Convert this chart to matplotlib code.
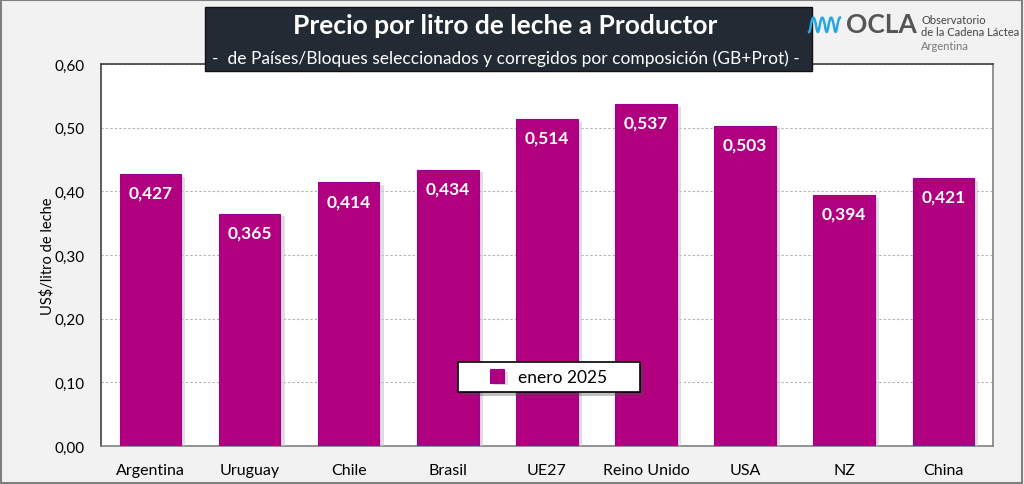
import numpy as np
import matplotlib.pyplot as plt
from matplotlib.patches import Rectangle
from matplotlib.lines import Line2D
import matplotlib.patheffects as pe

plt.rcParams['font.family'] = ['Lato', 'DejaVu Sans']

paises = ['Argentina', 'Uruguay', 'Chile', 'Brasil', 'UE27', 'Reino Unido', 'USA', 'NZ', 'China']
precios = [0.427, 0.365, 0.414, 0.434, 0.514, 0.537, 0.503, 0.394, 0.421]
serie = 'enero 2025'
yticks = [0.0, 0.1, 0.2, 0.3, 0.4, 0.5, 0.6]

fig = plt.figure(figsize=(10.24, 4.85), dpi=100, facecolor='#f2f2f2')
fig.patches.append(Rectangle((0.001, 0.002), 0.997, 0.995, transform=fig.transFigure,
                             fill=False, edgecolor='#7f7f7f', linewidth=1.5))

ax = fig.add_axes([0.0986, 0.0784, 0.871, 0.7876])
ax.set_facecolor('white')
x = np.arange(len(paises))
bars = ax.bar(x, precios, width=0.62, color='#b0007f', edgecolor='#9a0094', linewidth=0.8,
              label=serie, zorder=3)
for b in bars:
    b.set_path_effects([pe.SimplePatchShadow(offset=(3, -2), shadow_rgbFace='#c8c8c8', alpha=0.6), pe.Normal()])

for xi, v in zip(x, precios):
    ax.text(xi, v - 0.017, ('%.3f' % v).replace('.', ','), ha='center', va='top',
            color='white', fontsize=12.5, fontweight='bold', zorder=4)

ax.set_xlim(-0.5, len(paises) - 0.5)
ax.set_ylim(0, 0.6)
ax.set_yticks(yticks)
ax.set_yticklabels([('%.2f' % t).replace('.', ',') for t in yticks], fontsize=11)
ax.set_xticks(x)
ax.set_xticklabels(paises, fontsize=11.5)
ax.tick_params(length=0)
ax.tick_params(axis='x', pad=12)
ax.tick_params(axis='y', pad=12)
ax.yaxis.grid(True, linestyle=(0, (2, 2)), color='#b0b0b0', linewidth=0.8, zorder=0)
ax.set_ylabel('US$/litro de leche', fontsize=10.5, labelpad=0)
for s in ['left', 'top']:
    ax.spines[s].set_color('#404040')
    ax.spines[s].set_linewidth(1.2)
for s in ['right', 'bottom']:
    ax.spines[s].set_color('#808080')
    ax.spines[s].set_linewidth(1.2)

# recuadro de la leyenda
box = Rectangle((0.400, 0.141), 0.204, 0.079, transform=ax.transAxes, facecolor='white',
                edgecolor='black', linewidth=1.2, zorder=5)
box.set_path_effects([pe.SimplePatchShadow(offset=(3, -3), alpha=0.35), pe.Normal()])
ax.add_patch(box)
leg = ax.legend(loc='center', bbox_to_anchor=(0.502, 0.1805), fontsize=12.5, frameon=False,
                handlelength=0.8, handleheight=0.8, handletextpad=0.8, borderaxespad=0)
leg.set_zorder(6)

# caja de título
fig.patches.append(Rectangle((205 / 1024, 1 - 72 / 485), 607 / 1024, 64 / 485, transform=fig.transFigure,
                             facecolor='#222a33', edgecolor='#111111', linewidth=1, zorder=10))
fig.text(505 / 1024, 1 - 26 / 485, 'Precio por litro de leche a Productor', ha='center', va='center',
         color='white', fontsize=19, fontweight='bold', zorder=11)
fig.text(506 / 1024, 1 - 59 / 485,
         '-  de Países/Bloques seleccionados y corregidos por composición (GB+Prot) -',
         ha='center', va='center', color='white', fontsize=12.5, zorder=11)

# logo
t = np.linspace(0, 1, 200)
wx = (809 + 31 * t) / 1024
wy = 1 - (24 + 9 * np.cos(2 * np.pi * 3.5 * t) * np.where(np.cos(2 * np.pi * 3.5 * t) > 0, 1, 0.6)) / 485
fig.add_artist(Line2D(wx, wy, transform=fig.transFigure, color='#29a8e0', linewidth=1.8, zorder=11))
fig.text(846 / 1024, 1 - 25 / 485, 'OCLA', ha='left', va='center', color='#555555', fontsize=19,
         fontweight='bold', zorder=11)
fig.text(921 / 1024, 1 - 20 / 485, 'Observatorio', ha='left', va='center', color='#444444', fontsize=8, zorder=11)
fig.text(921 / 1024, 1 - 33 / 485, 'de la Cadena Láctea', ha='left', va='center', color='#444444', fontsize=8, zorder=11)
fig.text(921 / 1024, 1 - 46 / 485, 'Argentina', ha='left', va='center', color='#777777', fontsize=8, zorder=11)

fig.savefig('out.png', dpi=100, facecolor=fig.get_facecolor())
